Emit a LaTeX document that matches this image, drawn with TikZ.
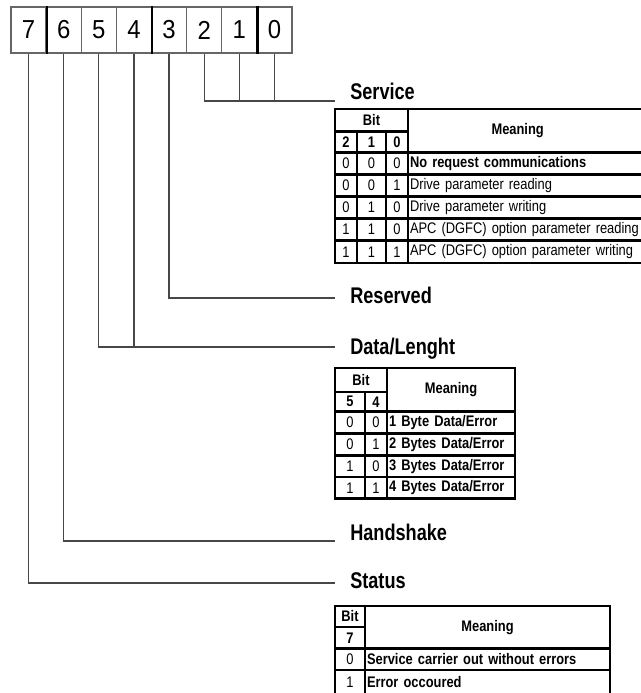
\documentclass[tikz,border=0pt]{standalone}
\usepackage{fontspec}
\setmainfont{Liberation Sans}
\newfontfamily\digfont{Liberation Sans}[FakeStretch=0.92]
\newfontfamily\labfont{Liberation Sans}[FakeStretch=0.8]
\newfontfamily\tabfont{Liberation Sans}[FakeStretch=0.84]
\newcommand\tcell[6]{%
  \pgfmathsetmacro\tcW{(#4-#2)*0.75}\pgfmathsetmacro\tcH{(#5-#3)*0.75}%
  \pgfmathsetmacro\tcX{(#2+#4)/2}\pgfmathsetmacro\tcY{(#3+#5)/2}%
  \node[tc, minimum width=\tcW pt, minimum height=\tcH pt] (#1) at (\tcX,\tcY) {#6};}
\newcommand\lcell[6]{%
  \pgfmathsetmacro\tcW{(#4-#2)*0.75}\pgfmathsetmacro\tcH{(#5-#3)*0.75}%
  \pgfmathsetmacro\tcT{(#4-#2)*0.75-3}%
  \pgfmathsetmacro\tcX{(#2+#4)/2}\pgfmathsetmacro\tcY{(#3+#5)/2}%
  \node[tc, minimum width=\tcW pt, minimum height=\tcH pt, text width=\tcT pt, align=left, inner xsep=1.5pt] (#1) at (\tcX,\tcY) {#6};}
\begin{document}
\begin{tikzpicture}[x=0.75pt,y=-0.75pt,
  bitbox/.style={draw=black!60, line width=0.95pt, minimum width=26.35pt, minimum height=34.5pt, inner sep=0pt, font=\digfont\fontsize{19.5}{19.5}\selectfont},
  sepline/.style={draw=black, line width=1.6pt},
  conn/.style={draw=black!72, line width=0.95pt},
  lab/.style={anchor=base west, inner sep=0pt, font=\labfont\bfseries\fontsize{17}{17}\selectfont},
  tc/.style={draw=black, line width=1.9pt, inner sep=0pt, font=\tabfont\fontsize{11.5}{12}\selectfont},
  ]
\useasboundingbox (0,0) rectangle (641,693);
\clip (0,0) rectangle (641,693);

% top bit boxes
\node[bitbox] (b7) at (28.56,30) {7};
\node[bitbox] (b6) at (63.69,30) {6};
\node[bitbox] (b5) at (98.81,30) {5};
\node[bitbox] (b4) at (133.94,30) {4};
\node[bitbox] (b3) at (169.06,30) {3};
\node[bitbox] (b2) at (204.19,30) {2};
\node[bitbox] (b1) at (239.31,30) {1};
\node[bitbox] (b0) at (274.44,30) {0};
\draw[sepline] (b7.north east) -- (b7.south east);
\draw[sepline] (b4.north east) -- (b4.south east);
\draw[sepline] (b1.north east) -- (b1.south east);

% connectors
\coordinate (eSvc) at (335,101);
\draw[conn] (b2.south) |- (eSvc);
\draw[conn] (b1.south) -- (b1.south |- eSvc);
\draw[conn] (b0.south) -- (b0.south |- eSvc);
\coordinate (eRes) at (335,298);
\draw[conn] (b3.south) |- (eRes);
\coordinate (eDat) at (335,347);
\draw[conn] (b5.south) |- (eDat);
\draw[conn] (b4.south) -- (b4.south |- eDat);
\coordinate (eHs) at (335,541);
\draw[conn] (b6.south) |- (eHs);
\coordinate (eSt) at (335,583);
\draw[conn] (b7.south) |- (eSt);

% labels
\node[lab] (lSvc) at (350,99.5) {Service};
\node[lab] (lRes) at (350,303.5) {Reserved};
\node[lab] (lDat) at (350,354) {Data/Lenght};
\node[lab] (lHs) at (350,540) {Handshake};
\node[lab] (lSt) at (350,588) {Status};

% Service table
\tcell{sBit}{335}{109}{408}{131.5}{\bfseries Bit}
\tcell{sB2}{335}{131.5}{357}{152.5}{\bfseries 2}
\tcell{sB1}{357}{131.5}{386}{152.5}{\bfseries 1}
\tcell{sB0}{386}{131.5}{408}{152.5}{\bfseries 0}
\tcell{sMean}{408}{109}{650}{152.5}{\bfseries\hspace*{-17pt}Meaning}
\tcell{s1a}{335}{152.5}{357}{174.5}{0}
\tcell{s1b}{357}{152.5}{386}{174.5}{0}
\tcell{s1c}{386}{152.5}{408}{174.5}{0}
\lcell{s1m}{408}{152.5}{650}{174.5}{\bfseries No request communications}
\tcell{s2a}{335}{174.5}{357}{196.5}{0}
\tcell{s2b}{357}{174.5}{386}{196.5}{0}
\tcell{s2c}{386}{174.5}{408}{196.5}{1}
\lcell{s2m}{408}{174.5}{650}{196.5}{Drive parameter reading}
\tcell{s3a}{335}{196.5}{357}{218.5}{0}
\tcell{s3b}{357}{196.5}{386}{218.5}{1}
\tcell{s3c}{386}{196.5}{408}{218.5}{0}
\lcell{s3m}{408}{196.5}{650}{218.5}{Drive parameter writing}
\tcell{s4a}{335}{218.5}{357}{240.5}{1}
\tcell{s4b}{357}{218.5}{386}{240.5}{1}
\tcell{s4c}{386}{218.5}{408}{240.5}{0}
\lcell{s4m}{408}{218.5}{650}{240.5}{APC (DGFC) option parameter reading}
\tcell{s5a}{335}{240.5}{357}{263}{1}
\tcell{s5b}{357}{240.5}{386}{263}{1}
\tcell{s5c}{386}{240.5}{408}{263}{1}
\lcell{s5m}{408}{240.5}{650}{263}{APC (DGFC) option parameter writing}

% Data/Length table
\tcell{dBit}{335}{368}{387}{392}{\bfseries Bit}
\tcell{dB5}{335}{392}{365}{411.5}{\bfseries 5}
\tcell{dB4}{365}{392}{387}{411.5}{\bfseries 4}
\tcell{dMean}{387}{368}{515}{411.5}{\bfseries Meaning}
\tcell{d1a}{335}{411.5}{365}{433.5}{0}
\tcell{d1b}{365}{411.5}{387}{433.5}{0}
\lcell{d1m}{387}{411.5}{515}{433.5}{\bfseries 1 Byte Data/Error}
\tcell{d2a}{335}{433.5}{365}{455.5}{0}
\tcell{d2b}{365}{433.5}{387}{455.5}{1}
\lcell{d2m}{387}{433.5}{515}{455.5}{\bfseries 2 Bytes Data/Error}
\tcell{d3a}{335}{455.5}{365}{477}{1}
\tcell{d3b}{365}{455.5}{387}{477}{0}
\lcell{d3m}{387}{455.5}{515}{477}{\bfseries 3 Bytes Data/Error}
\tcell{d4a}{335}{477}{365}{498.5}{1}
\tcell{d4b}{365}{477}{387}{498.5}{1}
\lcell{d4m}{387}{477}{515}{498.5}{\bfseries 4 Bytes Data/Error}

% Status table
\tcell{tBit}{335}{606}{365}{627}{\bfseries Bit}
\tcell{tB7}{335}{627}{365}{648.5}{\bfseries 7}
\tcell{tMean}{365}{606}{610}{648.5}{\bfseries Meaning}
\tcell{t1a}{335}{648.5}{365}{670}{0}
\lcell{t1m}{365}{648.5}{610}{670}{\bfseries Service carrier out without errors}
\tcell{t2a}{335}{670}{365}{694}{1}
\lcell{t2m}{365}{670}{610}{694}{\bfseries Error occoured}
\end{tikzpicture}
\end{document}
